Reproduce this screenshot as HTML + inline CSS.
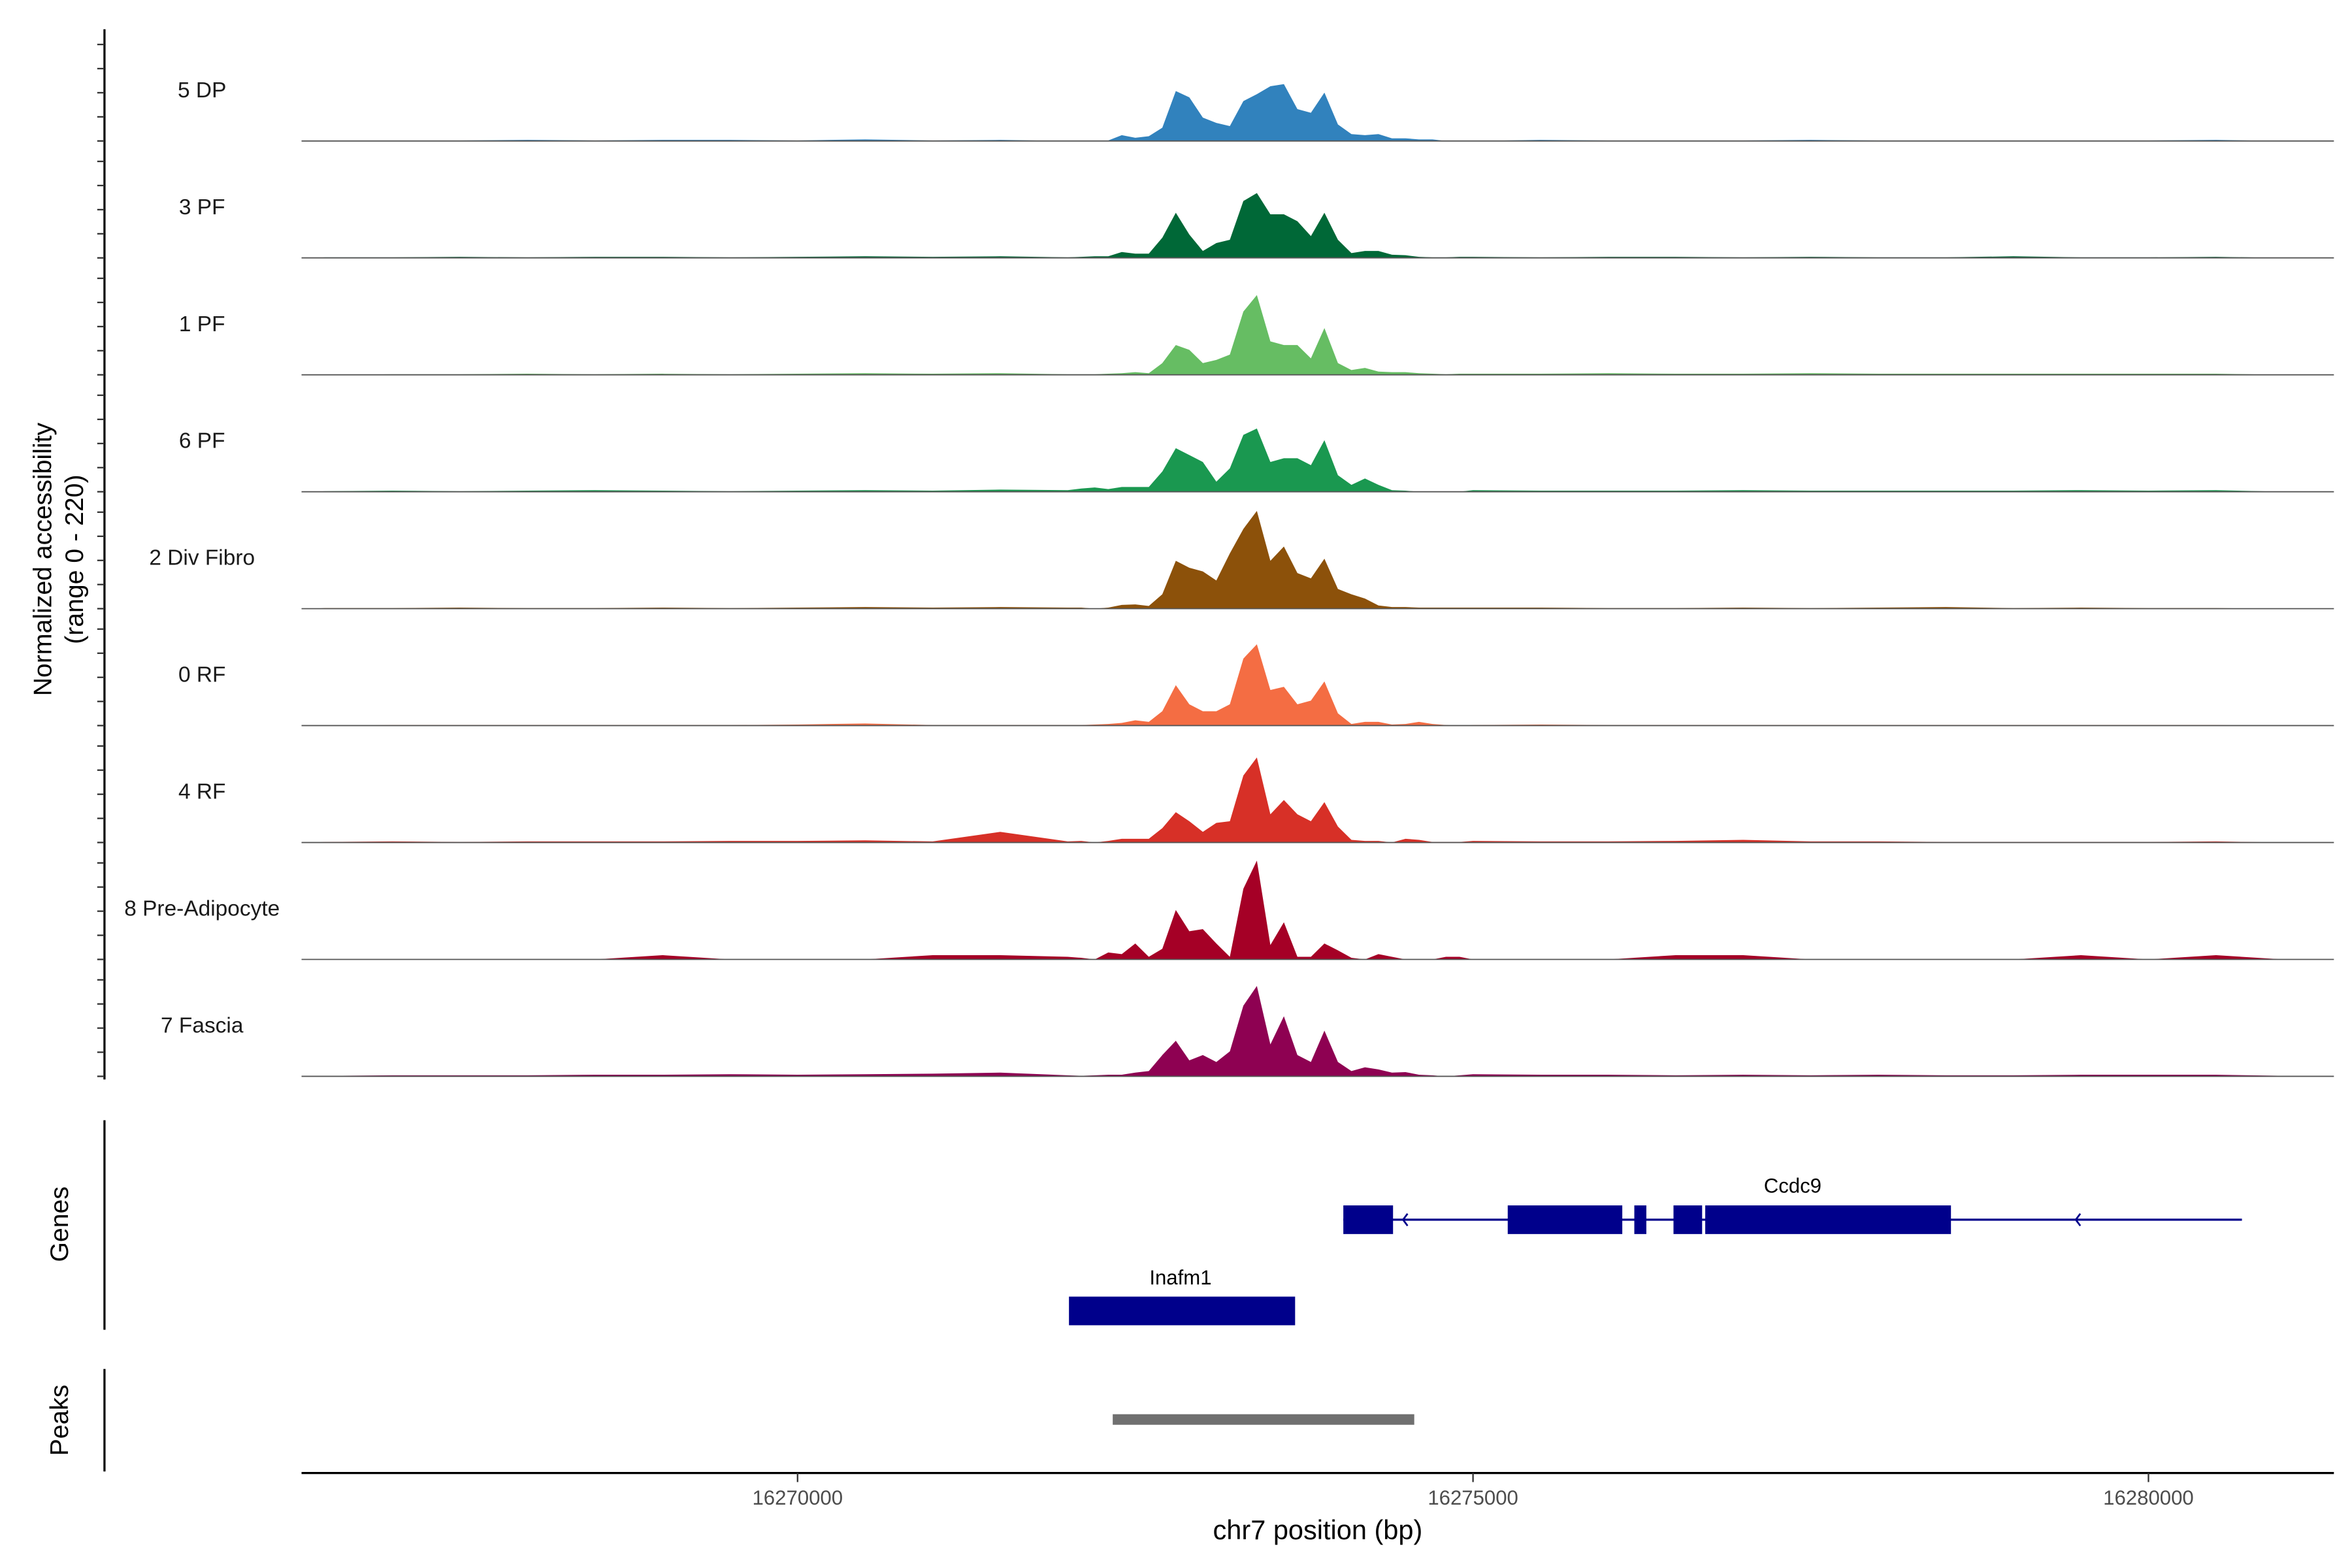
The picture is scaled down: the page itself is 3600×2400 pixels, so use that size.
<!DOCTYPE html>
<html><head><meta charset="utf-8"><style>
html,body{margin:0;padding:0;background:#fff;}
svg{display:block;}
text{font-family:"Liberation Sans",Arial,sans-serif;}
</style></head><body>
<svg id="chart" xmlns="http://www.w3.org/2000/svg" width="3600" height="2400" viewBox="0 0 1560 1040">
<g id="tracks"></g>
<g id="yaxis"></g>
<text transform="translate(34,371) rotate(-90)" text-anchor="middle" font-size="17" fill="#000">Normalized accessibility</text>
<text transform="translate(55,371) rotate(-90)" text-anchor="middle" font-size="17" fill="#000">(range 0 - 220)</text>
<g id="genes"></g>
<line x1="69.3" y1="743" x2="69.3" y2="882" stroke="#000" stroke-width="1.4"/>
<text transform="translate(45,812) rotate(-90)" text-anchor="middle" font-size="17">Genes</text>
<g id="peaks"></g>
<line x1="69.3" y1="908" x2="69.3" y2="976" stroke="#000" stroke-width="1.4"/>
<text transform="translate(45,942) rotate(-90)" text-anchor="middle" font-size="17">Peaks</text>
<g id="xaxis"></g>
<text x="874" y="1021" text-anchor="middle" font-size="18">chr7 position (bp)</text>
</svg>
<script>
const trackNames = ["5 DP","3 PF","1 PF","6 PF","2 Div Fibro","0 RF","4 RF","8 Pre-Adipocyte","7 Fascia"];
const trackColors = ["#3182bd","#006837","#66bd63","#1a9850","#8c510a","#f46d43","#d73027","#a50026","#8e0152"];
// core region positions: 16272000..16274900 step 100
const corePos = [16272000,16272100,16272200,16272300,16272400,16272500,16272600,16272700,16272800,16272900,16273000,16273100,16273200,16273300,16273400,16273500,16273600,16273700,16273800,16273900,16274000,16274100,16274200,16274300,16274400,16274500,16274600,16274700,16274800,16274900];
const coreDP = [0,0,1,1,11,6,9,25,94,82,44,34,28,75,88,103,107,60,53,91,31,13,11,13,5,5,3,3,0,0];
const core3PF = [1,2,3,3,11,8,8,38,85,44,13,28,34,107,122,82,82,69,41,85,34,9,13,13,6,5,2,1,1,2];
const core1PF = [1,1,1,2,3,5,3,22,56,47,22,28,38,119,150,63,56,56,31,88,22,9,13,6,5,5,3,2,1,2];
const core6PF = [3,6,8,5,9,9,9,38,82,69,56,19,44,107,119,56,63,63,50,97,31,13,25,13,3,2,0,0,0,0];
const coreDiv = [2,2,0,2,7,8,5,27,90,77,70,53,104,150,184,90,117,67,57,94,37,27,19,6,3,3,2,2,2,2];
const core0RF = [1,1,2,3,5,10,7,27,76,40,27,27,40,126,153,67,73,40,47,83,23,3,7,7,2,3,7,3,1,0];
const core4RF = [2,3,0,3,7,7,7,27,57,40,20,37,40,126,160,53,80,53,40,76,30,5,3,3,0,7,5,1,1,1];
const corePre = [5,3,0,13,10,30,5,20,93,53,57,30,5,133,186,27,70,5,5,30,17,3,0,10,5,0,0,0,5,5];
const coreFas = [2,1,2,3,3,7,10,40,67,30,40,27,47,133,170,60,113,40,27,86,27,10,17,13,7,8,3,2,0,2];
// background positions outside core
const bgPos = [16266500,16267000,16267500,16268000,16268500,16269000,16269500,16270000,16270500,16271000,16271500,16275000,16275500,16276000,16276500,16277000,16277500,16278000,16278500,16279000,16279500,16280000,16280500,16281000];
const bgDP = [0,1,1,2,1,2,2,1,3,1,2,0,2,1,1,1,2,1,1,1,1,1,2,0];
const bg3PF = [1,1,2,1,2,2,1,2,3,2,3,2,1,2,2,1,2,1,1,3,1,1,2,0];
const bg1PF = [0,1,1,2,1,2,1,2,3,2,3,2,2,3,2,2,3,2,2,2,2,2,2,0];
const bg6PF = [1,2,1,2,3,2,1,2,3,2,4,3,2,2,2,3,2,2,2,2,3,2,3,0];
const bgDiv = [1,1,2,1,1,2,1,2,3,2,3,2,2,1,1,2,1,2,3,1,2,1,1,0];
const bg0RF = [0,1,1,1,1,1,1,2,4,1,1,1,2,1,1,1,1,1,1,1,1,1,1,0];
const bg4RF = [1,2,1,2,2,2,3,3,4,2,20,3,2,2,3,5,2,2,1,1,1,1,2,0];
const bgPre = [0,0,0,0,0,8,0,0,0,8,8,0,0,0,8,8,0,0,0,0,8,0,8,0];
const bgFas = [1,2,2,2,3,3,4,3,4,5,7,4,3,3,2,3,2,3,2,2,3,3,3,1];
const coreSeries = [coreDP,core3PF,core1PF,core6PF,coreDiv,core0RF,core4RF,corePre,coreFas];
const bgSeries = [bgDP,bg3PF,bg1PF,bg6PF,bgDiv,bg0RF,bg4RF,bgPre,bgFas];
const xTicks = [16270000,16275000,16280000];
const xTickLabels = ["16270000","16275000","16280000"];
const yMax = 220;
const geneCcdc9Exons = [[16274040,16274408],[16275257,16276105],[16276194,16276283],[16276484,16276696],[16276719,16278538]];
const geneCcdc9Span = [16274040,16280692];
const geneCcdc9Arrows = [16275040,16279020,16280020];
const geneInafm1 = [16272009,16273683];
const peakRegions = [[16272333,16274565]];

const NS = "http://www.w3.org/2000/svg";
const X0 = 529, PXPERBP = 448/5000;
function xs(bp){ return X0 + (bp-16270000)*PXPERBP; }
const BASE0 = 93.5, STEP = 77.55, TH = 77.55;
function ys(i, v){ return BASE0 + i*STEP - v/yMax*TH; }
function mk(tag, attrs, parent){ const e=document.createElementNS(NS,tag); for(const k in attrs) e.setAttribute(k,attrs[k]); parent.appendChild(e); return e; }

const tg = document.getElementById('tracks');
trackNames.forEach((name,i)=>{
  const g = mk('g',{},tg);
  
  
  const pts = [];
  bgPos.forEach((p,j)=>{ if(p<16272000) pts.push([p,bgSeries[i][j]]); });
  corePos.forEach((p,j)=>pts.push([p,coreSeries[i][j]]));
  bgPos.forEach((p,j)=>{ if(p>16274900) pts.push([p,bgSeries[i][j]]); });
  const base = ys(i,0);
  let d = 'M'+xs(16266400).toFixed(2)+','+base.toFixed(2);
  pts.forEach(q=>{ d+=' L'+xs(q[0]).toFixed(2)+','+ys(i,q[1]).toFixed(2); });
  d += ' L'+xs(16281100).toFixed(2)+','+base.toFixed(2)+' Z';
  const a = mk('path',{d:d,fill:trackColors[i],stroke:'none'},g);
  
  
  const bl = mk('line',{x1:200,x2:1548,y1:base,y2:base,stroke:'#555','stroke-width':0.8},g);
  
  
  const t = mk('text',{x:134,y:base-29,'text-anchor':'middle','font-size':14.5,fill:'#1a1a1a'},g);
  t.textContent = name;
  
  
});

const ya = document.getElementById('yaxis');
const yl = mk('line',{x1:69.3,x2:69.3,y1:19.4,y2:716,stroke:'#000','stroke-width':1.4},ya);


for(let i=0;i<trackNames.length;i++){
  for(let k=0;k<5;k++){
    const y = ys(i,0) - k*16;
    const tk = mk('line',{x1:64.5,x2:69.3,y1:y,y2:y,stroke:'#333','stroke-width':1},ya);
    
    
  }
}

const gg = document.getElementById('genes');
const gc = '#00008b';
const ln = mk('line',{x1:xs(geneCcdc9Span[0]),x2:xs(geneCcdc9Span[1]),y1:809,y2:809,stroke:gc,'stroke-width':1.4},gg);


geneCcdc9Exons.forEach(e=>{
  const r = mk('rect',{x:xs(e[0]),y:799.5,width:xs(e[1])-xs(e[0]),height:19,fill:gc},gg);
  
  
});
geneCcdc9Arrows.forEach(p=>{
  const x = xs(p)-50;
  const ar = mk('path',{d:`M${x+3},805 L${x},809 L${x+3},813`,fill:'none',stroke:gc,'stroke-width':1.2},gg);
  
  
});
const cl = mk('text',{x:1189,y:791,'text-anchor':'middle','font-size':13.5},gg);
cl.textContent='Ccdc9';


const ib = mk('rect',{x:xs(geneInafm1[0]),y:860,width:xs(geneInafm1[1])-xs(geneInafm1[0]),height:19,fill:gc},gg);


const il = mk('text',{x:783,y:852,'text-anchor':'middle','font-size':13.5},gg);
il.textContent='Inafm1';



const pg = document.getElementById('peaks');
peakRegions.forEach(p=>{
  const r = mk('rect',{x:xs(p[0]),y:938,width:xs(p[1])-xs(p[0]),height:7,fill:'#707070'},pg);
  
  
});

const xa = document.getElementById('xaxis');
const xl = mk('line',{x1:200,x2:1548,y1:977,y2:977,stroke:'#000','stroke-width':1.4},xa);


xTicks.forEach((t,i)=>{
  const tk = mk('line',{x1:xs(t),x2:xs(t),y1:977,y2:983,stroke:'#333','stroke-width':1},xa);
  
  
  const lb = mk('text',{x:xs(t),y:998,'text-anchor':'middle','font-size':13.5,fill:'#4d4d4d'},xa);
  lb.textContent = xTickLabels[i];
  
  
});
</script>
</body></html>
